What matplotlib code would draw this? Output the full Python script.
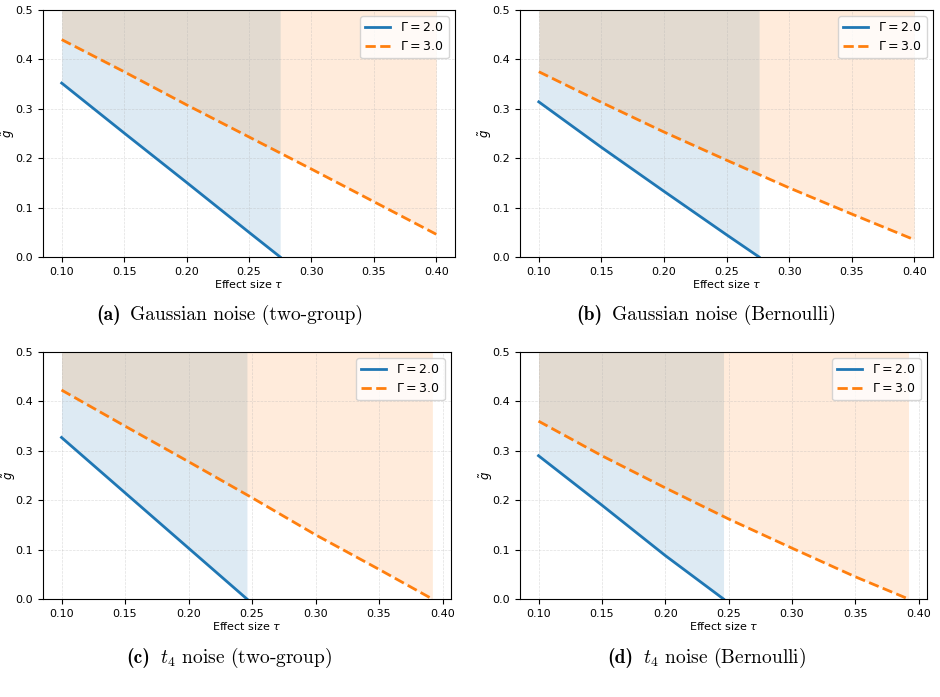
import numpy as np
import matplotlib.pyplot as plt
import matplotlib as mpl

mpl.rcParams.update({"font.size": 8, "mathtext.fontset": "dejavusans"})

# effect size grid and bounds
x_ticks = [0.10, 0.15, 0.20, 0.25, 0.30, 0.35, 0.40]

# (a) Gaussian two-group
a_x2 = [0.10, 0.15, 0.20, 0.25, 0.275]
a_g2 = [0.352, 0.251, 0.151, 0.050, 0.0]
a_x3 = [0.10, 0.15, 0.20, 0.25, 0.30, 0.35, 0.40]
a_g3 = [0.440, 0.375, 0.308, 0.243, 0.178, 0.112, 0.046]

# (b) Gaussian Bernoulli
b_x2 = [0.10, 0.15, 0.20, 0.25, 0.276]
b_g2 = [0.314, 0.222, 0.133, 0.045, 0.0]
b_x3 = [0.10, 0.15, 0.20, 0.25, 0.30, 0.35, 0.40]
b_g3 = [0.375, 0.313, 0.253, 0.196, 0.140, 0.087, 0.035]

# (c) t4 two-group
c_x2 = [0.10, 0.15, 0.20, 0.246]
c_g2 = [0.327, 0.215, 0.103, 0.0]
c_x3 = [0.10, 0.15, 0.20, 0.25, 0.30, 0.35, 0.392]
c_g3 = [0.423, 0.350, 0.278, 0.205, 0.130, 0.060, 0.0]

# (d) t4 Bernoulli
d_x2 = [0.10, 0.15, 0.20, 0.246]
d_g2 = [0.290, 0.190, 0.088, 0.0]
d_x3 = [0.10, 0.15, 0.20, 0.25, 0.30, 0.35, 0.392]
d_g3 = [0.360, 0.290, 0.225, 0.162, 0.103, 0.045, 0.0]

tags = ["(a)", "(b)", "(c)", "(d)"]
captions = ["Gaussian noise (two-group)", "Gaussian noise (Bernoulli)",
            r"$t_4$ noise (two-group)", r"$t_4$ noise (Bernoulli)"]
series = [(a_x2, a_g2, a_x3, a_g3), (b_x2, b_g2, b_x3, b_g3),
          (c_x2, c_g2, c_x3, c_g3), (d_x2, d_g2, d_x3, d_g3)]

# axes boxes in figure fractions (left, bottom, width, height)
boxes = [
    (0.0457, 0.6313, 0.4383, 0.3544),
    (0.5532, 0.6313, 0.4394, 0.3544),
    (0.0457, 0.1406, 0.4340, 0.3544),
    (0.5532, 0.1406, 0.4330, 0.3544),
]
# caption: tag right edge, text left edge (pixels), centre y (fraction)
cap_x = [(121, 130), (602, 612), (150, 160), (633, 643)]
cap_y = [0.548, 0.548, 0.056, 0.056]

W = 940
fig = plt.figure(figsize=(9.4, 6.97), dpi=100)
for (x2, g2, x3, g3), box, tag, cap, cx, cy in zip(series, boxes, tags,
                                                   captions, cap_x, cap_y):
    ax = fig.add_axes(box)
    ax.fill_between(x2, g2, 0.5, color="tab:blue", alpha=0.15, linewidth=0)
    ax.fill_between(x3, g3, 0.5, color="tab:orange", alpha=0.15, linewidth=0)
    ax.plot(x2, g2, color="tab:blue", lw=2, label=r"$\Gamma=2.0$")
    ax.plot(x3, g3, color="tab:orange", lw=2, ls="--", label=r"$\Gamma=3.0$")
    ax.set_ylim(0, 0.5)
    ax.set_xticks(x_ticks)
    ax.set_xlabel(r"Effect size $\tau$", labelpad=1)
    ax.set_ylabel(r"$\tilde{g}$", fontsize=8.5)
    ax.yaxis.set_label_coords(-0.062, 0.5)
    ax.grid(True, linestyle="--", linewidth=0.5, alpha=0.4)
    ax.legend(fontsize=9, loc="upper right")
    fig.text(cx[0] / W, cy, tag, ha="right", va="center",
             family="cmb10", fontsize=14)
    with mpl.rc_context({"mathtext.fontset": "cm"}):
        fig.text(cx[1] / W, cy, cap, ha="left", va="center",
                 family="cmr10", fontsize=14)

plt.savefig("out.png", dpi=100)
